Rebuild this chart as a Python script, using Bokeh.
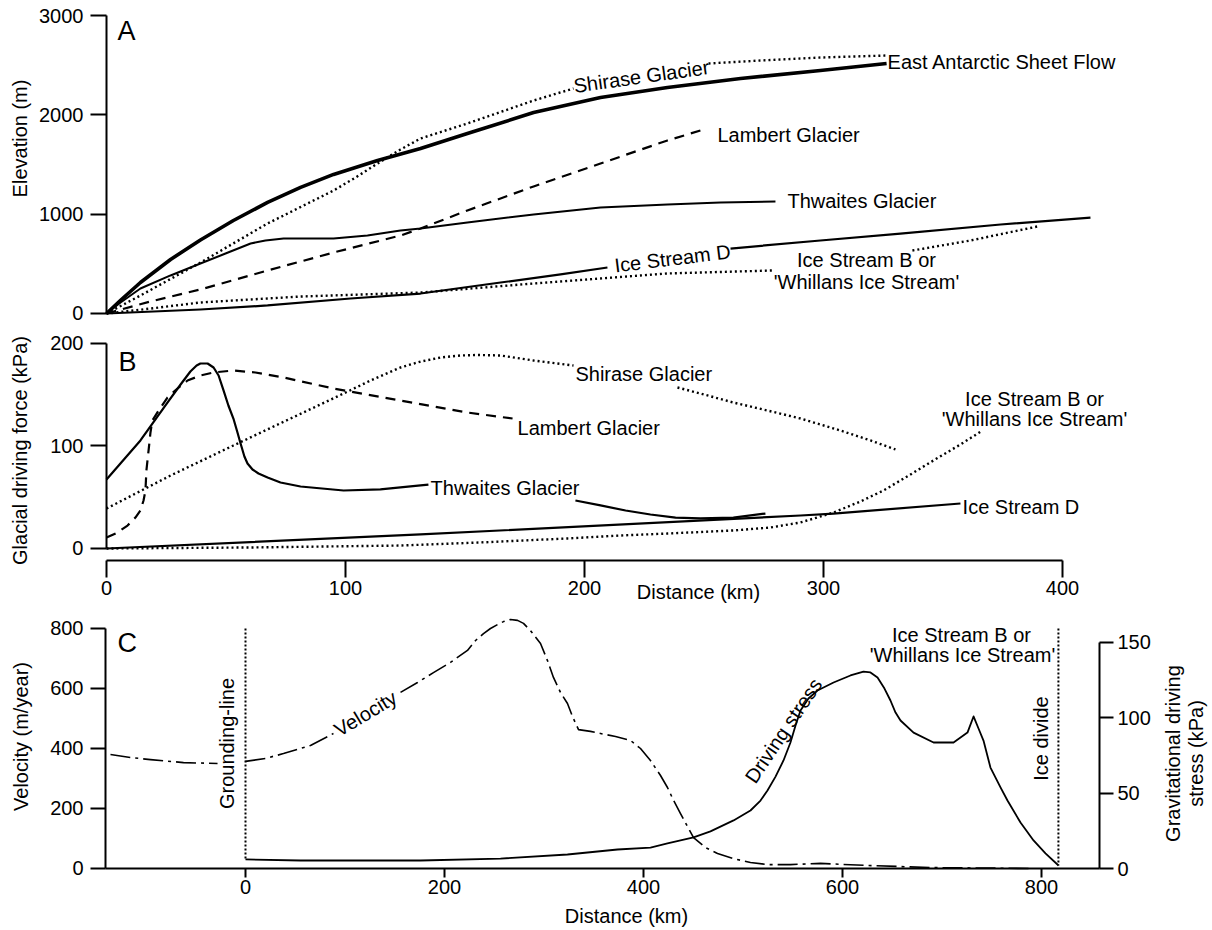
import math
from bokeh.plotting import figure
from bokeh.models import Range1d, LinearAxis, Label, FixedTicker
from bokeh.embed import file_html
from bokeh.resources import INLINE

NaN = float("nan")
FONT = "Liberation Sans"

# ---------------- Panel A : elevation (m) vs distance (km) ----------------
A_easf_km = [0, 5.9, 14.2, 26.8, 39.3, 53.1, 67.4, 81.2, 95.0, 113.4, 131.4, 151.0, 178.7, 206.7, 234.7, 265.3, 298.7, 326.4]
A_easf_m = [0, 133, 312, 544, 740, 936, 1118, 1269, 1400, 1540, 1661, 1812, 2023, 2174, 2275, 2366, 2446, 2517]

A_shirase_km = [0, 14.2, 39.3, 67.4, 95.0, 104.2, 113.4, 123.0, 131.4, 151.0, 178.7, 195.4, NaN, 251.9, 273.6, 298.7, 325.9]
A_shirase_m = [0, 181, 513, 906, 1238, 1369, 1510, 1651, 1762, 1913, 2144, 2265, NaN, 2517, 2547, 2577, 2597]

A_lambert_km = [0, 18.4, 39.3, 67.4, 95.0, 123.0, 131.4, 151.0, 178.7, 206.7, 234.7, 248.5]
A_lambert_m = [0, 121, 242, 433, 614, 785, 856, 1037, 1279, 1510, 1742, 1842]

A_thwaites_km = [0, 5.9, 14.2, 26.8, 39.3, 49.8, 60.3, 66.5, 74.1, 85.4, 95.0, 109.2, 123.0, 131.4, 151.0, 178.7,
                 206.7, 234.7, 256.9, 279.9]
A_thwaites_m = [0, 111, 252, 383, 503, 604, 705, 735, 755, 755, 755, 785, 836, 856, 916, 997,
                1067, 1097, 1117, 1128]

A_isd_km = [0, 39.3, 67.4, 102.1, 131.4, 164.9, 190.0, 209.6, NaN, 261.1, 298.7, 332.2, 374.1, 411.7]
A_isd_m = [0, 40, 81, 151, 201, 312, 393, 463, NaN, 654, 735, 805, 896, 966]

A_isb_km = [0, 18.4, 39.3, 81.2, 131.4, 178.7, 234.7, 278.7, NaN, 337.2, 361.5, 389.5]
A_isb_m = [0, 50, 111, 171, 211, 302, 403, 433, NaN, 634, 735, 876]

A_y_ticks = [0, 1000, 2000, 3000]

# ---------------- Panel B : driving force (kPa) vs distance (km) ----------------
B_thwaites_km = [0, 14.2, 25.5, 31.0, 35.1, 37.7, 39.3, 42.3, 44.8, 46.9, 49.0, 51.0, 53.1, 54.8, 56.1, 57.7, 59.0,
                 61.1, 63.6, 67.4, 72.8, 81.2, 99.2, 114.6, 131.4, 134.7,
                 NaN, 196.2, 206.7, 217.2, 227.6, 238.1, 248.5, 262.3, 275.7]
B_thwaites_kpa = [67.3, 105.4, 142.4, 160.0, 172.7, 178.5, 180.5, 180.5, 176.6, 168.8, 154.1, 139.5, 126.8, 113.2,
                  102.4, 89.8, 82.9, 77.1, 73.2, 69.3, 64.4, 60.5, 56.6, 57.6, 61.5, 62.4,
                  NaN, 46.8, 42.0, 37.1, 33.2, 30.2, 29.3, 30.2, 34.1]

B_lambert_km = [0, 4.6, 8.8, 12.1, 14.2, 15.5, 16.3, 16.7, 17.6, 18.4, 19.2, 21.8, 25.5, 29.7, 33.9, 39.3, 44.8,
                53.1, 62.3, 74.1, 95.0, 123.0, 151.0, 169.9]
B_lambert_kpa = [10.7, 15.6, 22.4, 30.2, 37.1, 46.8, 56.6, 76.1, 95.6, 113.2, 124.9, 134.6, 147.3, 156.1, 163.9,
                 168.8, 171.7, 173.7, 171.7, 166.8, 156.1, 144.4, 132.7, 126.8]

B_shirase_km = [0, 26.8, 53.1, 77.0, 99.2, 110.5, 123.0, 131.4, 139.7, 148.1, 155.2, 164.9, 178.7, 195.4,
                NaN, 238.9, 248.5, 262.3, 276.6, 290.4, 307.1, 319.7, 330.1]
B_shirase_kpa = [39.0, 71.2, 100.5, 126.8, 151.2, 163.9, 176.6, 182.4, 186.3, 188.3, 188.8, 188.3, 183.4, 178.5,
                 NaN, 157.1, 151.2, 142.4, 134.6, 126.8, 115.1, 105.4, 96.6]

B_isb_km = [0, 60.3, 123.0, 156.5, 192.9, 215.1, 234.7, 262.3, 277.8, 290.4, 304.2, 315.5, 325.1, 336.4, 346.0,
            357.3, 366.5]
B_isb_kpa = [0, 1.0, 2.9, 5.9, 9.8, 12.7, 14.6, 17.6, 20.5, 25.4, 35.1, 45.9, 56.6, 72.2, 85.9, 101.5, 115.1]

B_isd_km = [0, 131.4, 290.4, 304.2, 357.3]
B_isd_kpa = [0, 13.7, 32.2, 34.1, 43.9]

B_y_ticks = [0, 100, 200]
AB_x_ticks = [0, 100, 200, 300, 400]

# ---------------- Panel C : Ice Stream B profile ----------------
C_vel_km = [-135.7, -115.6, -95.5, -62.3, -28.1, NaN, 0.0, 20.1, 38.2, 65.3, 88.4, NaN,
            155.8, 172.9, 188.9, 206.0, 223.1, 231.2, 239.2, 246.2, 253.3, 259.3, 266.3, 273.4, 279.4, 286.4,
            296.5, 303.5, 309.5, 316.6, 323.6, 328.6, 334.7, 346.7, 356.8, 371.9, 386.9, 397.0, 407.0, 417.1,
            424.1, 430.2, 437.2, 444.2, 450.3, 462.3, 474.4, 490.5, 507.5, 524.6, 547.7, 577.9, 625.1, 691.5, 792.0]
C_vel = [380, 370, 363, 353, 350, NaN, 357, 367, 383, 410, 450, NaN,
         587, 620, 653, 687, 727, 760, 783, 800, 813, 823, 830, 827, 817, 793,
         750, 693, 637, 587, 550, 507, 463, 457, 450, 440, 427, 400, 360, 310,
         270, 227, 183, 140, 103, 70, 50, 33, 20, 13, 13, 17, 10, 3, 0]

C_stress_km = [0, 55.3, 175.9, 256.3, 323.6, 373.9, 407.0, 424.1, 437.2, 450.3, 467.3, 490.5, 507.5, 517.6, 524.6,
               532.7, 540.7, 547.7, 552.8, 557.8, 565.8, 574.9, 591.0, 608.0, 621.1, 628.1, 635.2, 642.2, 648.2,
               653.3, 658.3, 671.4, 691.5, 711.6, 725.6, 731.7, 736.7, 741.7, 748.7, 758.8, 765.8, 778.9, 792.0,
               804.0, 817.1]
C_stress = [6.0, 5.3, 5.3, 6.6, 9.3, 12.6, 13.9, 16.6, 18.6, 20.6, 24.6, 31.9, 38.5, 45.1, 51.8,
            61.0, 71.7, 83.6, 94.9, 104.8, 112.8, 118.1, 123.4, 128.1, 130.7, 130.1, 126.7, 119.4, 111.5,
            103.5, 98.2, 90.2, 83.6, 83.6, 90.2, 100.9, 92.9, 84.9, 67.0, 53.8, 45.1, 30.5, 18.6,
            10.0, 2.0]

C_ground_km = [0, 0]
C_ground_vel = [800, 27]
C_divide_km = [817, 817]
C_divide_vel = [800, 10]

C_x_ticks = [0, 200, 400, 600, 800]
C_vel_ticks = [0, 200, 400, 600, 800]
C_stress_ticks = [0, 50, 100, 150]

DOT = "2 3"
DASH = "10 7"
DASHDOT = "20 5 3 5"

W, H = 1212, 928

# one canvas; each panel has its own ranges, axes placed at fixed data locations
p = figure(width=W, height=H,
           x_range=Range1d(-44.35, 462.76), y_range=Range1d(-6191.5, 3151.1),
           x_axis_location=None, y_axis_location=None,
           output_backend="svg", toolbar_location=None,
           min_border_left=0, min_border_right=0, min_border_top=0, min_border_bottom=0)
p.extra_x_ranges = {"C": Range1d(-246.23, 971.86)}
p.extra_y_ranges = {"B": Range1d(-370.73, 534.63),
                    "Cv": Range1d(-200.0, 2893.33),
                    "Cs": Range1d(-39.81, 575.98)}
p.outline_line_color = None
p.grid.visible = False
p.background_fill_color = "white"
p.border_fill_color = "white"


def make_axis(side, ticks, tick_out, standoff, bounds, loc, xr="default", yr="default"):
    ax = LinearAxis(x_range_name=xr, y_range_name=yr, fixed_location=loc, bounds=bounds)
    ax.ticker = FixedTicker(ticks=ticks)
    ax.minor_tick_line_color = None
    ax.major_tick_in = 0
    ax.major_tick_out = tick_out
    ax.major_tick_line_width = 2
    ax.major_tick_line_color = "black"
    ax.axis_line_width = 2
    ax.axis_line_color = "black"
    ax.major_label_text_font = FONT
    ax.major_label_text_font_size = "20px"
    ax.major_label_text_color = "black"
    ax.major_label_standoff = standoff
    p.add_layout(ax, side)
    return ax


def draw(xs, ys, width, dash="solid", xr="default", yr="default"):
    p.line(xs, ys, line_width=width, line_color="black", line_dash=dash,
           line_join="round", line_cap="butt", x_range_name=xr, y_range_name=yr)


def lab(x, y, text, size="20px", align="left", angle=0.0, xr="default", yr="default"):
    p.add_layout(Label(x=x, y=y, text=text, text_font=FONT, text_font_size=size,
                       text_align=align, text_baseline="middle", text_color="black",
                       angle=math.radians(angle), x_range_name=xr, y_range_name=yr))


# ---------------- Panel A ----------------
make_axis("left", A_y_ticks, 16, 7, (0, 3000), 0)

draw(A_easf_km, A_easf_m, 3.6)
draw(A_shirase_km, A_shirase_m, 2.4, DOT)
draw(A_lambert_km, A_lambert_m, 2.2, DASH)
draw(A_thwaites_km, A_thwaites_m, 2.0)
draw(A_isd_km, A_isd_m, 2.2)
draw(A_isb_km, A_isb_m, 2.4, DOT)

lab(4.6, 2849, "A", size="27px")
lab(223.8, 2386, "Shirase Glacier", align="center", angle=8)
lab(326.8, 2527, "East Antarctic Sheet Flow")
lab(255.6, 1802, "Lambert Glacier")
lab(284.9, 1128, "Thwaites Glacier")
lab(236.8, 554, "Ice Stream D", align="center", angle=7)
lab(318.0, 534, "Ice Stream B or", align="center")
lab(318.0, 322, "'Whillans Ice Stream'", align="center")
lab(-36.0, 1762, "Elevation (m)", align="center", angle=90)

# ---------------- Panel B ----------------
make_axis("left", B_y_ticks, 16, 7, (0, 200), 0, yr="B")
make_axis("below", AB_x_ticks, 17, 4, (0, 400), -11.7, yr="B")

draw(B_thwaites_km, B_thwaites_kpa, 2.2, yr="B")
draw(B_lambert_km, B_lambert_kpa, 2.2, DASH, yr="B")
draw(B_shirase_km, B_shirase_kpa, 2.4, DOT, yr="B")
draw(B_isb_km, B_isb_kpa, 2.4, DOT, yr="B")
draw(B_isd_km, B_isd_kpa, 2.2, yr="B")

lab(5.0, 182.4, "B", size="27px", yr="B")
lab(196.2, 170.7, "Shirase Glacier", yr="B")
lab(172.0, 117.1, "Lambert Glacier", yr="B")
lab(135.6, 59.5, "Thwaites Glacier", yr="B")
lab(358.2, 40.0, "Ice Stream D", yr="B")
lab(388.3, 146.3, "Ice Stream B or", align="center", yr="B")
lab(388.3, 126.8, "'Whillans Ice Stream'", align="center", yr="B")
lab(-36.0, 95.6, "Glacial driving force (kPa)", align="center", angle=90, yr="B")
lab(247.7, -42.9, "Distance (km)", align="center", yr="B")

# ---------------- Panel C ----------------
make_axis("below", C_x_ticks, 9, 3, (-140.7, 858.3), 0, xr="C", yr="Cv")
make_axis("left", C_vel_ticks, 15, 7, (0, 800), -140.7, xr="C", yr="Cv")
make_axis("right", C_stress_ticks, 14, 4, (0, 150), 858.3, xr="C", yr="Cs")

draw(C_ground_km, C_ground_vel, 2.0, "2 2", xr="C", yr="Cv")
draw(C_divide_km, C_divide_vel, 2.0, "2 2", xr="C", yr="Cv")
draw(C_vel_km, C_vel, 1.6, DASHDOT, xr="C", yr="Cv")
draw(C_stress_km, C_stress, 1.8, "solid", xr="C", yr="Cs")

lab(-128.6, 753.3, "C", size="27px", xr="C", yr="Cv")
lab(-18.1, 416.7, "Grounding-line", align="center", angle=90, xr="C", yr="Cv")
lab(120.6, 516.7, "Velocity", align="center", angle=31, xr="C", yr="Cv")
lab(540.7, 460.0, "Driving stress", align="center", angle=56, xr="C", yr="Cv")
lab(799.0, 433.3, "Ice divide", align="center", angle=90, xr="C", yr="Cv")
lab(719.6, 776.7, "Ice Stream B or", align="center", xr="C", yr="Cv")
lab(720.6, 710.0, "'Whillans Ice Stream'", align="center", xr="C", yr="Cv")
lab(-226.1, 440.0, "Velocity (m/year)", align="center", angle=90, xr="C", yr="Cv")
lab(931.7, 383.3, "Gravitational driving", align="center", angle=90, xr="C", yr="Cv")
lab(954.8, 383.3, "stress (kPa)", align="center", angle=90, xr="C", yr="Cv")
lab(382.9, -156.7, "Distance (km)", align="center", xr="C", yr="Cv")

open("out.html", "w").write(file_html(p, INLINE, "Ice stream profiles"))
